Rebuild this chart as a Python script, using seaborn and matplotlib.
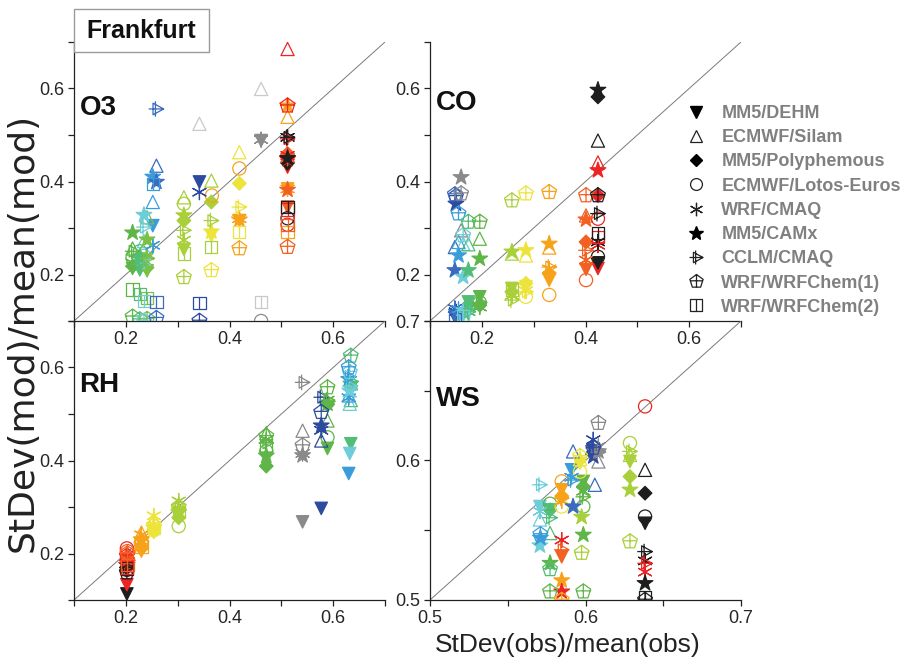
import numpy as np
import pandas as pd
import matplotlib
matplotlib.use("Agg")
import matplotlib.pyplot as plt
import seaborn as sns
from matplotlib.path import Path
from matplotlib.lines import Line2D
from matplotlib.patches import Rectangle
from matplotlib.ticker import MultipleLocator, FuncFormatter

sns.set_style("ticks")
plt.rcParams["font.family"] = ["Liberation Sans", "DejaVu Sans"]

nan = np.nan

MODELS = ["MM5/DEHM", "ECMWF/Silam", "MM5/Polyphemous", "ECMWF/Lotos-Euros",
          "WRF/CMAQ", "MM5/CAMx", "CCLM/CMAQ", "WRF/WRFChem(1)", "WRF/WRFChem(2)"]

PALETTE = {"k": "#1e1e1e", "r": "#ee2424", "or": "#f26122", "o": "#f7a21b",
           "y": "#ece43a", "yg": "#a9d03a", "g2": "#7cc143", "g": "#5fb548",
           "sg": "#52bd77", "cy": "#6dcdd8", "lb": "#3a9ddb", "b": "#3a6bbf",
           "db": "#2c4aa0", "gr": "#8a8a8a", "lgr": "#c9c9c9"}

# model order in each row: DEHM, Silam, Polyphemous, Lotos, WRF/CMAQ, CAMx, CCLM, WRFChem1, WRFChem2
O3_OBS = [0.213, 0.227, 0.241, 0.235, 0.252, 0.259, 0.342, 0.342, 0.312, 0.365,
          0.365, 0.366, 0.419, 0.419, 0.461, 0.461, 0.512, 0.512, 0.512, 0.512]
O3_COLOR = ["g", "sg", "g2", "cy", "lb", "b", "db", "lgr", "yg", "yg",
            "y", "o", "y", "o", "gr", "lgr", "r", "o", "or", "k"]
O3_MOD = [
    [0.213, 0.256, 0.218, 0.236, 0.225, 0.290, 0.250, 0.109, 0.168],
    [0.210, 0.240, 0.225, 0.250, 0.230, 0.238, 0.222, 0.103, 0.158],
    [0.208, 0.323, 0.215, 0.252, 0.240, 0.275, 0.235, 0.104, 0.150],
    [nan, 0.272, nan, 0.240, 0.228, 0.328, 0.302, 0.100, 0.143],
    [0.305, 0.356, nan, nan, 0.263, 0.410, nan, nan, 0.395],
    [nan, 0.434, nan, nan, nan, 0.399, 0.556, 0.106, 0.141],
    [0.399, nan, nan, nan, 0.377, nan, nan, 0.100, 0.138],
    [nan, 0.524, nan, nan, nan, nan, nan, nan, nan],
    [0.254, 0.366, 0.316, 0.352, 0.274, 0.327, 0.295, 0.194, 0.245],
    [nan, 0.402, 0.356, nan, nan, nan, 0.316, nan, 0.259],
    [0.284, nan, nan, nan, nan, 0.292, nan, 0.209, nan],
    [nan, nan, nan, 0.370, nan, nan, nan, nan, nan],
    [nan, 0.463, 0.396, nan, nan, nan, 0.345, nan, 0.291],
    [0.316, nan, nan, 0.428, 0.320, 0.318, nan, 0.256, nan],
    [0.488, nan, nan, 0.100, 0.490, nan, nan, nan, nan],
    [nan, 0.599, nan, nan, nan, nan, nan, nan, 0.141],
    [0.431, 0.685, 0.452, 0.307, 0.456, 0.448, 0.492, 0.563, 0.340],
    [0.384, 0.539, 0.456, nan, 0.384, 0.563, nan, nan, 0.291],
    [0.345, nan, 0.460, nan, 0.450, 0.382, nan, 0.259, 0.307],
    [0.438, nan, 0.440, 0.321, 0.495, 0.450, 0.495, nan, 0.345],
]

CO_OBS = [0.150, 0.148, 0.155, 0.164, 0.174, 0.196, 0.160, 0.258, 0.285, 0.330,
          0.401, 0.424, 0.424]
CO_COLOR = ["db", "b", "lb", "cy", "sg", "g", "gr", "yg", "y", "o", "or", "r", "k"]
CO_MOD = [
    [0.105, nan, nan, nan, 0.120, 0.352, nan, 0.368, nan],
    [0.112, 0.259, nan, nan, 0.127, 0.209, nan, 0.372, 0.105],
    [0.110, 0.270, nan, nan, 0.125, 0.241, nan, 0.331, nan],
    [0.112, 0.266, nan, 0.110, 0.120, 0.195, 0.116, 0.284, 0.110],
    [0.141, 0.265, 0.135, nan, 0.120, 0.209, 0.120, 0.313, nan],
    [0.152, 0.277, 0.134, 0.140, 0.130, 0.234, 0.140, 0.313, nan],
    [nan, 0.295, nan, nan, nan, 0.409, nan, 0.374, nan],
    [0.170, 0.245, 0.163, nan, 0.155, 0.249, 0.145, 0.359, 0.168],
    [0.174, 0.241, 0.181, 0.152, 0.165, 0.252, 0.163, 0.374, nan],
    [0.188, 0.258, 0.202, 0.156, 0.212, 0.266, 0.216, 0.377, nan],
    [0.211, 0.327, 0.270, 0.188, 0.231, 0.318, 0.252, 0.370, nan],
    [0.213, 0.441, 0.370, 0.320, 0.263, 0.424, nan, nan, 0.280],
    [0.225, 0.488, 0.582, 0.238, 0.270, 0.597, 0.331, 0.370, 0.289],
]

RH_OBS = [0.202, 0.202, 0.203, 0.230, 0.254, 0.302, 0.471, 0.541, 0.577, 0.589,
          0.634, 0.632, 0.630]
RH_COLOR = ["k", "r", "or", "o", "y", "yg", "g", "gr", "db", "g", "sg", "cy", "lb"]
RH_MOD = [
    [0.113, nan, 0.170, 0.165, 0.180, 0.175, 0.170, 0.159, 0.168],
    [0.133, 0.195, 0.180, 0.211, 0.190, 0.175, 0.185, 0.195, 0.170],
    [0.165, 0.200, 0.185, 0.205, 0.190, 0.180, 0.190, 0.200, 0.175],
    [0.205, 0.245, 0.211, 0.225, 0.240, 0.230, 0.235, 0.220, 0.215],
    [0.245, 0.274, 0.249, 0.250, 0.281, 0.255, 0.266, 0.260, 0.255],
    [0.285, 0.306, 0.277, 0.259, 0.313, 0.288, 0.296, 0.300, 0.290],
    [0.405, 0.459, 0.388, 0.420, 0.445, 0.410, 0.438, 0.452, 0.430],
    [0.268, 0.464, nan, nan, 0.415, 0.411, 0.568, 0.432, nan],
    [0.297, 0.443, nan, nan, 0.465, 0.475, 0.536, 0.504, nan],
    [0.426, 0.486, 0.520, 0.450, 0.530, 0.522, 0.530, 0.557, nan],
    [0.436, 0.530, 0.560, nan, 0.560, 0.565, 0.570, 0.625, nan],
    [0.415, 0.522, nan, nan, 0.545, 0.550, 0.560, 0.590, nan],
    [0.372, 0.540, nan, nan, 0.535, 0.575, 0.580, 0.600, nan],
]

WS_OBS = [0.5707, 0.5710, 0.5772, 0.5772, 0.5847, 0.5847, 0.5847, 0.5847, 0.5910,
          0.5920, 0.6060, 0.5965, 0.5986, 0.5975, 0.6050, 0.6083, 0.6286, 0.6383, 0.6383]
WS_COLOR = ["cy", "lb", "sg", "g", "o", "or", "r", "y", "lb",
            "b", "b", "y", "g", "yg", "db", "gr", "yg", "k", "r"]
WS_MOD = [
    [0.567, 0.5577, nan, nan, 0.5636, 0.539, 0.5826, nan, nan],
    [nan, nan, nan, nan, nan, 0.5445, nan, 0.547, nan],
    [0.5646, 0.548, 0.5646, nan, nan, nan, 0.559, 0.522, nan],
    [nan, nan, nan, 0.569, nan, 0.5265, nan, 0.506, nan],
    [0.579, nan, 0.5745, 0.585, 0.571, 0.514, 0.573, 0.500, nan],
    [0.531, nan, nan, nan, nan, nan, 0.536, nan, nan],
    [nan, nan, nan, nan, 0.543, 0.506, nan, nan, nan],
    [nan, nan, nan, 0.567, nan, nan, nan, nan, nan],
    [0.5933, nan, nan, nan, 0.588, nan, 0.586, nan, nan],
    [nan, 0.6065, nan, nan, nan, 0.567, nan, nan, nan],
    [nan, 0.5826, nan, nan, nan, nan, nan, nan, nan],
    [0.598, 0.601, nan, 0.592, nan, nan, nan, 0.603, nan],
    [0.585, nan, 0.5813, 0.567, 0.578, 0.5467, 0.574, 0.506, nan],
    [nan, nan, nan, nan, nan, 0.5595, nan, 0.5337, nan],
    [0.607, nan, 0.606, nan, 0.6149, 0.6029, 0.609, 0.609, nan],
    [nan, 0.5993, nan, nan, 0.610, 0.6065, 0.606, 0.6268, nan],
    [0.5993, 0.604, 0.5885, 0.6125, nan, 0.579, 0.6065, 0.5419, nan],
    [0.555, 0.5933, 0.5766, 0.5598, 0.528, 0.512, 0.5347, 0.500, 0.502],
    [nan, nan, nan, 0.6388, 0.520, nan, 0.5263, nan, nan],
]


# ---- custom markers ----
M, L, C = Path.MOVETO, Path.LINETO, Path.CLOSEPOLY
CCLM_PATH = Path([(-0.35, -0.6), (0.75, 0.0), (-0.35, 0.6), (-0.35, -0.6),
                  (-0.1, -0.8), (-0.1, 0.8), (-0.8, 0.0), (0.75, 0.0)],
                 [M, L, L, C, M, L, M, L])
_a = np.deg2rad(90 + 72 * np.arange(5))
_pv = [(float(np.cos(t)), float(np.sin(t))) for t in _a]
PENT_PATH = Path(_pv + [_pv[0], (0, 1), (0, -0.809), (-0.883, 0.1), (0.883, 0.1)],
                 [M, L, L, L, L, C, M, L, M, L])
SQ_PATH = Path([(-1, -1), (1, -1), (1, 1), (-1, 1), (-1, -1), (0, -1), (0, 1)],
               [M, L, L, L, C, M, L])

MARKERS = {
    "MM5/DEHM": ("v", "filled", 80),
    "ECMWF/Silam": ("^", "open", 90),
    "MM5/Polyphemous": ("D", "filled", 48),
    "ECMWF/Lotos-Euros": ("o", "open", 90),
    "WRF/CMAQ": ((6, 2, 0), "line", 115),
    "MM5/CAMx": ("*", "filled", 140),
    "CCLM/CMAQ": (CCLM_PATH, "open", 125),
    "WRF/WRFChem(1)": (PENT_PATH, "open", 125),
    "WRF/WRFChem(2)": (SQ_PATH, "open", 78),
}

PANEL_LABEL_POS = {"O3": (0.02, 0.765), "CO": (0.02, 0.78),
                   "RH": (0.015, 0.77), "WS": (0.02, 0.72)}


def build(obs, colors, mod):
    rows = []
    for i, x in enumerate(obs):
        for j, m in enumerate(MODELS):
            v = mod[i][j]
            if not np.isnan(v):
                rows.append({"obs": x, "mod": v, "group": colors[i], "model": m})
    return pd.DataFrame(rows)


W, H = 915, 664
fig = plt.figure(figsize=(W / 100, H / 100), dpi=100)


def add_ax(x0, y0, x1, y1):
    return fig.add_axes([x0 / W, 1 - y1 / H, (x1 - x0) / W, (y1 - y0) / H])


ax_o3 = add_ax(74, 42, 385, 321)
ax_co = add_ax(430, 42, 741, 321)
ax_rh = add_ax(74, 321, 385, 600)
ax_ws = add_ax(430, 321, 741, 600)

TICKFONT = 13


def even_fmt(v, p):
    k = int(round(v * 10))
    return f"{v:.1f}" if (k % 2 == 0 and 2 <= k <= 6) else ""


def ws_fmt(v, p):
    k = int(round(v * 100))
    return f"{v:.1f}" if k % 10 == 0 else ""


def draw(ax, df, lo, hi, step, fmt, name):
    ax.patch.set_visible(False)
    ax.plot([lo, hi], [lo, hi], color="#7a7a7a", lw=0.7, zorder=1)
    for m in MODELS:
        sub = df[df["model"] == m]
        if sub.empty:
            continue
        mk, kind, size = MARKERS[m]
        sns.scatterplot(data=sub, x="obs", y="mod", hue="group", palette=PALETTE,
                        marker=mk, s=size, legend=False, ax=ax, linewidth=0.9,
                        zorder=3)
        coll = ax.collections[-1]
        cols = coll.get_facecolors()
        coll.set_edgecolors(cols)
        if kind == "open":
            coll.set_facecolors("none")
    ax.set_xlim(lo, hi)
    ax.set_ylim(lo, hi)
    ax.set_xlabel("")
    ax.set_ylabel("")
    for axis in (ax.xaxis, ax.yaxis):
        axis.set_major_locator(MultipleLocator(step))
        axis.set_major_formatter(FuncFormatter(fmt))
    ax.tick_params(direction="out", length=4, width=0.9, labelsize=TICKFONT,
                   color="#222222", pad=3)
    sns.despine(ax=ax)
    for s in ("left", "bottom"):
        ax.spines[s].set_linewidth(0.9)
        ax.spines[s].set_color("#222222")
    px, py = PANEL_LABEL_POS[name]
    ax.text(px, py, name, transform=ax.transAxes, fontsize=20,
            fontweight="bold", ha="left", va="center", color="#111111")


draw(ax_o3, build(O3_OBS, O3_COLOR, O3_MOD), 0.1, 0.7, 0.1, even_fmt, "O3")
draw(ax_co, build(CO_OBS, CO_COLOR, CO_MOD), 0.1, 0.7, 0.1, even_fmt, "CO")
draw(ax_rh, build(RH_OBS, RH_COLOR, RH_MOD), 0.1, 0.7, 0.1, even_fmt, "RH")
draw(ax_ws, build(WS_OBS, WS_COLOR, WS_MOD), 0.5, 0.7, 0.05, ws_fmt, "WS")

# Legend
handles = []
for m in MODELS:
    mk, kind, size = MARKERS[m]
    ms = np.sqrt(size) * 0.9
    if kind == "filled":
        h = Line2D([], [], ls="none", marker=mk, ms=ms, mfc="k", mec="k")
    else:
        h = Line2D([], [], ls="none", marker=mk, ms=ms, mfc="none", mec="#222222", mew=0.9)
    handles.append(h)
leg = fig.legend(handles, MODELS, loc="upper left",
                 bbox_to_anchor=(687 / W, 1 - 105 / H), frameon=False,
                 prop={"weight": "bold", "size": 13}, labelcolor="#808080",
                 handlelength=1.0, handletextpad=0.9, labelspacing=0.40,
                 borderpad=0, borderaxespad=0)

# Frankfurt box
fig.patches.append(Rectangle((74 / W, 1 - 52 / H), 135 / W, 43 / H,
                             transform=fig.transFigure, facecolor="white",
                             edgecolor="#9a9a9a", lw=1.0, zorder=5))
fig.text(141.5 / W, 1 - 31 / H, "Frankfurt", fontsize=18, fontweight="bold",
         ha="center", va="center", zorder=6, color="#111111")

fig.text(568 / W, 1 - 645 / H, "StDev(obs)/mean(obs)", fontsize=19,
         ha="center", va="center", color="#222222")
fig.text(23 / W, 1 - 332 / H, "StDev(mod)/mean(mod)", fontsize=26,
         family=["DejaVu Sans"], rotation=90, ha="center", va="center",
         color="#222222")

fig.savefig("out.png", dpi=100)
